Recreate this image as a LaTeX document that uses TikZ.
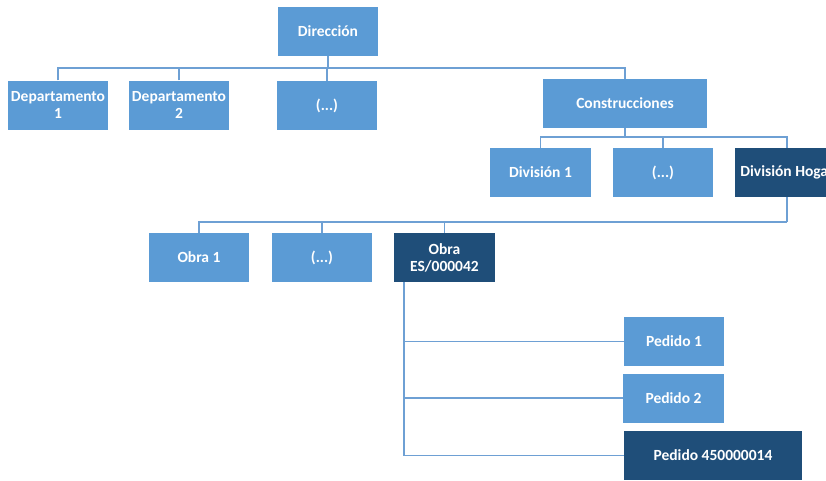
\documentclass[tikz,border=0pt]{standalone}
\usepackage{fontspec}
\setmainfont{Carlito}
\definecolor{boxlight}{RGB}{91,155,213}
\definecolor{boxdark}{RGB}{31,78,121}
\definecolor{linkcol}{RGB}{110,160,212}
\begin{document}
\begin{tikzpicture}[x=1pt,y=-1pt,
  unit/.style={fill=boxlight, text=white, font=\fontsize{15.5}{16.5}\selectfont\bfseries,
    align=center, inner sep=0pt, minimum height=49pt},
  unitdark/.style={unit, fill=boxdark},
  conn/.style={draw=linkcol, line width=1.2pt}]
\clip (0,0) rectangle (826,480);
\fill[white] (0,0) rectangle (826,480);

% top level
\node[unit, minimum width=100pt] (dir) at (328,31.5) {Dirección};

% departments
\node[unit, minimum width=100pt] (dep1) at (58,105) {Departamento\\1};
\node[unit, minimum width=100pt] (dep2) at (179,105) {Departamento\\2};
\node[unit, minimum width=100pt] (depx) at (327,105.5) {(...)};
\node[unit, minimum width=164pt] (cons) at (625,103.5) {Construcciones};

% divisions
\node[unit, minimum width=101pt] (div1) at (540.5,172.5) {División 1};
\node[unit, minimum width=100pt] (divx) at (663,172.5) {(...)};
\node[unitdark, minimum width=104pt] (divh) at (787,172.5) {División Hogar};

% works
\node[unit, minimum width=100pt] (obra1) at (199,257.5) {Obra 1};
\node[unit, minimum width=100pt] (obrax) at (322,257.5) {(...)};
\node[unitdark, minimum width=101pt, font=\fontsize{15.5}{17}\selectfont\bfseries] (obraes) at (444.5,257.5) {Obra\\ES/000042};

% orders
\node[unit, minimum width=100pt] (ped1) at (674,341.5) {Pedido 1};
\node[unit, minimum width=101pt] (ped2) at (673.5,398) {Pedido 2};
\node[unitdark, minimum width=178pt] (ped3) at (713,455.5) {Pedido 450000014};

% buses
\coordinate (busA) at (0,68);
\coordinate (busB) at (0,137);
\coordinate (busC) at (0,222);
\coordinate (trunk) at (404,282);

\draw[conn] (dir.south) -- (dir.south |- busA);
\draw[conn] (dep1.north) |- (cons.north |- busA) -- (cons.north);
\draw[conn] (dep2.north) -- (dep2.north |- busA);
\draw[conn] (depx.north) -- (depx.north |- busA);

\draw[conn] (cons.south) -- (cons.south |- busB);
\draw[conn] (div1.north) |- (divh.north |- busB) -- (divh.north);
\draw[conn] (divx.north) -- (divx.north |- busB);

\draw[conn] (divh.south) -- (divh.south |- busC);
\draw[conn] (obra1.north) |- (divh.south |- busC);
\draw[conn] (obrax.north) -- (obrax.north |- busC);
\draw[conn] (obraes.north) -- (obraes.north |- busC);

\draw[conn] (trunk) |- (ped3.west);
\draw[conn] (trunk |- ped1.west) -- (ped1.west);
\draw[conn] (trunk |- ped2.west) -- (ped2.west);
\end{tikzpicture}
\end{document}
